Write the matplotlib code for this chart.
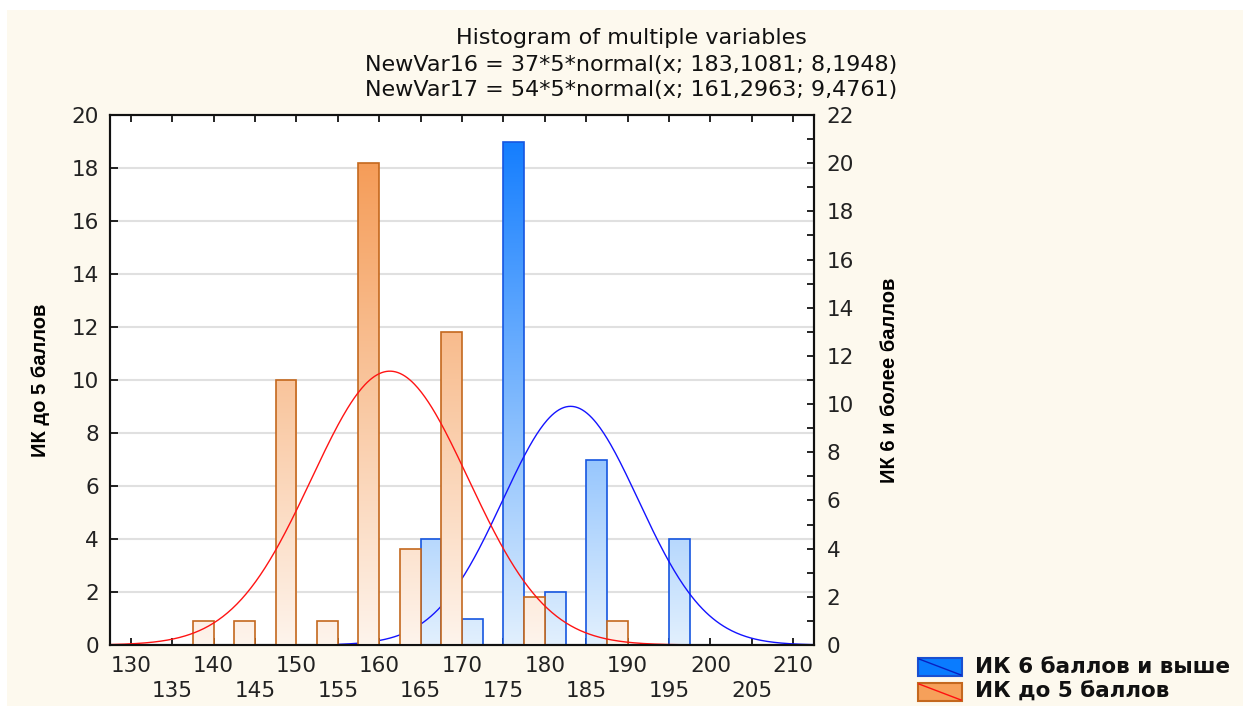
import numpy as np
import matplotlib
matplotlib.use("Agg")
import matplotlib.pyplot as plt
from matplotlib.colors import LinearSegmentedColormap
from matplotlib.patches import Rectangle
from matplotlib.lines import Line2D
from matplotlib.ticker import MultipleLocator

# class centres (5-wide classes) and counts
blue_bins = [165, 170, 175, 180, 185, 195]
blue_counts = [4, 1, 19, 2, 7, 4]
orange_bins = [140, 145, 150, 155, 160, 165, 170, 180, 190]
orange_counts = [1, 1, 11, 1, 20, 4, 13, 2, 1]
bin_width = 5

# fitted normal curves (from the title)
blue_n, blue_mu, blue_sd = 37, 183.1081, 8.1948
orange_n, orange_mu, orange_sd = 54, 161.2963, 9.4761

title_lines = ["Histogram of multiple variables",
               "NewVar16 = 37*5*normal(x; 183,1081; 8,1948)",
               "NewVar17 = 54*5*normal(x; 161,2963; 9,4761)"]
left_label = "ИК до 5 баллов"
right_label = "ИК 6 и более баллов"
legend_labels = ["ИК 6 баллов и выше", "ИК до 5 баллов"]

W, H = 1243, 706
narrow = ["Liberation Sans", "DejaVu Sans"]
plt.rcParams["font.family"] = ["DejaVu Sans"]


def normal_curve(x, n, mu, sd):
    return n * bin_width * np.exp(-0.5 * ((x - mu) / sd) ** 2) / (sd * np.sqrt(2 * np.pi))


def fx(px):
    return px / W


def fy(py):
    return 1 - py / H


def gradient_bars(ax, bars, cmap, z):
    grad = np.linspace(0, 1, 256).reshape(-1, 1)
    x0, x1 = ax.get_xlim()
    y0, y1 = ax.get_ylim()
    for b in bars:
        im = ax.imshow(grad, cmap=cmap, origin="lower", extent=(x0, x1, y0, y1),
                       aspect="auto", zorder=z, interpolation="bilinear")
        im.set_clip_path(b)
    ax.set_xlim(x0, x1)
    ax.set_ylim(y0, y1)


fig = plt.figure(figsize=(W / 100, H / 100), dpi=100)
fig.patch.set_facecolor("white")
fig.patches.append(Rectangle((fx(7), 0), 1, fy(10), transform=fig.transFigure,
                             facecolor="#fdf9ee", edgecolor="none", zorder=-10))

ax = fig.add_axes([fx(110), fy(645), fx(814) - fx(110), fy(115) - fy(645)])
ax.set_facecolor("white")
ax2 = ax.twinx()

ax.set_xlim(127.5, 212.5)
ax.set_ylim(0, 20)
ax2.set_ylim(0, 22)

blue_cmap = LinearSegmentedColormap.from_list("b", ["#e2f0fd", "#0a78ff"])
orange_cmap = LinearSegmentedColormap.from_list("o", ["#fef4ec", "#f4944a"])

# blue series on the left scale
bbars = ax.bar(blue_bins, blue_counts, width=bin_width / 2, align="edge",
               facecolor="none", edgecolor="#1656e0", linewidth=1.2, zorder=1.1)
gradient_bars(ax, bbars, blue_cmap, 1.0)
xs = np.linspace(127.5, 212.5, 600)
ax.plot(xs, normal_curve(xs, blue_n, blue_mu, blue_sd), color="#1414ff", lw=1.0, zorder=1.5)

# orange series on the right scale
obars = ax2.bar([c - bin_width / 2 for c in orange_bins], orange_counts, width=bin_width / 2,
                align="edge", facecolor="none", edgecolor="#c4681e", linewidth=1.2, zorder=1.1)
gradient_bars(ax2, obars, orange_cmap, 1.0)
ax2.plot(xs, normal_curve(xs, orange_n, orange_mu, orange_sd), color="#ff1414", lw=1.0, zorder=2)

# grid and ticks
ax.yaxis.grid(True, color="#e0e0e0", lw=1.5)
ax.set_axisbelow(True)
xt = np.arange(130, 211, 5)
ax.set_xticks(xt)
ax.set_xticklabels([str(v) if v % 10 == 0 else "\n" + str(v) for v in xt],
                   fontsize=15.5, color="#222222", linespacing=1.3)
ax.tick_params(axis="x", which="both", direction="in", top=True, length=5, width=1.2, pad=8)
ax.set_yticks(range(0, 21, 2))
ax.tick_params(axis="y", direction="in", length=6, width=1.2, pad=8, labelsize=15.5,
               labelcolor="#222222")
ax2.set_yticks(range(0, 23, 2))
ax2.yaxis.set_minor_locator(MultipleLocator(1))
ax2.tick_params(axis="y", which="both", direction="in", length=5, width=1.2, pad=9,
                labelsize=15.5, labelcolor="#222222")
for a in (ax, ax2):
    for s in a.spines.values():
        s.set_linewidth(1.5)
        s.set_color("#111111")

ax.set_ylabel(left_label, family=narrow, fontweight="bold", fontsize=14.5)
ax.yaxis.set_label_coords(-0.085, 0.5)
ax2.set_ylabel(right_label, family=narrow, fontweight="bold", fontsize=14.5)
ax2.yaxis.set_label_coords(1.094, 0.5)

# title
for py, line in zip([38, 65, 90], title_lines):
    fig.text(fx(631), fy(py), line, ha="center", va="center", fontsize=16, color="#111111")

# legend
legend_style = [("#0a7cff", "#1a50d0", "#0a20c0"), ("#f6a05a", "#c4681e", "#ff1010")]
for (face, edge, diag), label, py in zip(legend_style, legend_labels, [667, 692]):
    fig.patches.append(Rectangle((fx(918), fy(py + 9)), fx(962) - fx(918), fy(py - 9) - fy(py + 9),
                                 transform=fig.transFigure, facecolor=face, edgecolor=edge, lw=1.5))
    fig.lines.append(Line2D([fx(919), fx(961)], [fy(py - 8), fy(py + 8)],
                            transform=fig.transFigure, color=diag, lw=1.0))
    fig.text(fx(975), fy(py), label, ha="left", va="center", fontsize=15.5,
             fontweight="bold", color="#111111")

fig.savefig("out.png", dpi=100)
